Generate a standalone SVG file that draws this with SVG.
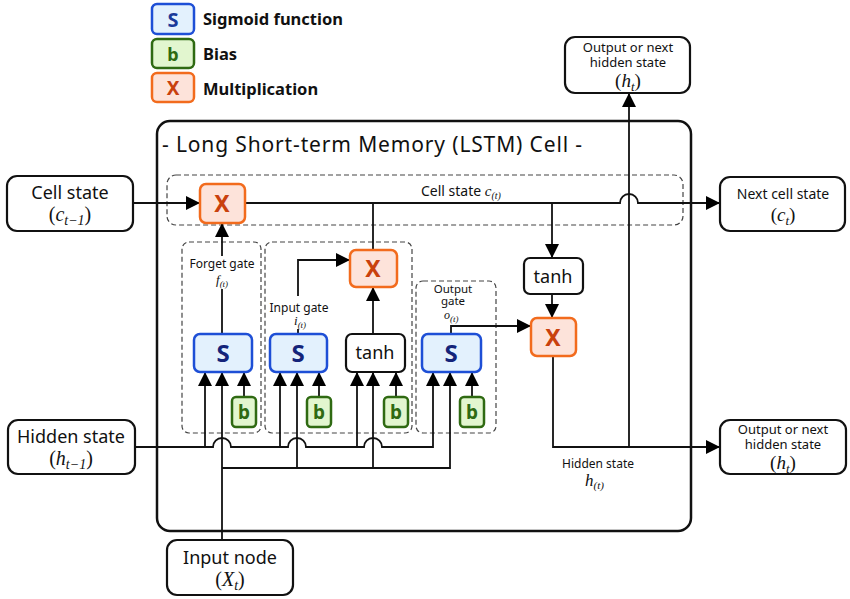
<svg xmlns="http://www.w3.org/2000/svg" width="850" height="599" viewBox="0 0 850 599">
<defs>
<marker id="ah" markerUnits="userSpaceOnUse" markerWidth="15" markerHeight="14" refX="14" refY="7" orient="auto">
<path d="M0,0 L14,7 L0,14 z" fill="#000"/>
</marker>
<style>
text{font-family:"Noto Sans","Open Sans","DejaVu Sans",sans-serif;fill:#111}
.m{font-family:"Liberation Serif","DejaVu Serif",serif;font-style:italic}
.p{font-family:"Liberation Serif","DejaVu Serif",serif}
.box{fill:#fff;stroke:#111;stroke-width:2.2}
.sb{fill:#e3f1fd;stroke:#1e4fd6;stroke-width:2.5}
.st{font-weight:bold;fill:#14247a;font-size:24px}
.bb{fill:#e2f6cf;stroke:#2f6a12;stroke-width:2.5}
.bt{font-weight:bold;fill:#2f6a12;font-size:19px}
.xb{fill:#fde3da;stroke:#f26b1d;stroke-width:2.5}
.xt{font-weight:bold;fill:#c9410e;font-size:23px}
.dash{fill:none;stroke:#444;stroke-width:1.2;stroke-dasharray:5,3}
.ln{fill:none;stroke:#111;stroke-width:1.8}
.arr{marker-end:url(#ah)}
.lg{font-weight:bold;font-size:16.5px}
.sm{font-size:12px}
.ob{font-size:13px}
</style>
</defs>

<g id="legend">
<rect class="sb" x="152" y="4" width="42" height="30" rx="5"/>
<text class="st" x="173" y="27" text-anchor="middle" style="font-size:20px;fill:#1a3a9a">S</text>
<text class="lg" x="203" y="25">Sigmoid function</text>
<rect class="bb" x="152" y="39" width="42" height="29" rx="5"/>
<text class="bt" x="173" y="61" text-anchor="middle" style="font-size:18px">b</text>
<text class="lg" x="203" y="60">Bias</text>
<rect class="xb" x="152" y="73" width="42" height="29" rx="5"/>
<text class="xt" x="173" y="95" text-anchor="middle" style="font-size:19px">X</text>
<text class="lg" x="203" y="95">Multiplication</text>
</g>

<g id="cell">
<rect x="157" y="121" width="534" height="410" rx="13" fill="none" stroke="#111" stroke-width="2.5"/>
<text x="162" y="152" style="font-size:21px" textLength="420" lengthAdjust="spacing">- Long Short-term Memory (LSTM) Cell -</text>
</g>

<g id="regions">
<rect class="dash" x="167" y="175" width="516" height="50" rx="9"/>
<rect class="dash" x="182" y="242" width="79" height="191" rx="7"/>
<rect class="dash" x="265" y="242" width="147" height="191" rx="7"/>
<rect class="dash" x="416" y="281" width="80" height="152" rx="7"/>
</g>

<g id="connectors">
<path class="ln arr" d="M133,203 H200"/>
<path class="ln arr" d="M245,203 H620 A9,9 0 0 1 638,203 H720"/>
<path class="ln arr" d="M552,203 V258"/>
<path class="ln arr" d="M552,294 V318"/>
<path class="ln" d="M222,334 V289"/>
<path class="ln arr" d="M222,256 V223"/>
<path class="ln" d="M298,334 V329"/>
<path class="ln arr" d="M298,296 V260 H350"/>
<path class="ln arr" d="M373,334 V287"/>
<path class="ln" d="M373,250 V203"/>
<path class="ln arr" d="M451,334 V326 H531"/>
<path class="ln arr" d="M553,356 V447 H720"/>
<path class="ln arr" d="M629,447 V93"/>
<path class="ln arr" d="M135,447 H213 A9,9 0 0 1 231,447 H288 A9,9 0 0 1 306,447 H364 A9,9 0 0 1 382,447 H433 V372"/>
<path class="ln arr" d="M205,447 V372"/>
<path class="ln arr" d="M280,447 V372"/>
<path class="ln arr" d="M357,447 V372"/>
<path class="ln arr" d="M222,540 V372"/>
<path class="ln arr" d="M222,468 H450 V372"/>
<path class="ln arr" d="M297,468 V372"/>
<path class="ln arr" d="M373,468 V372"/>
<path class="ln arr" d="M244,397 V372"/>
<path class="ln arr" d="M319,397 V372"/>
<path class="ln arr" d="M396,397 V372"/>
<path class="ln arr" d="M472,397 V372"/>
</g>

<g id="labels">
<text class="sm" x="222" y="268" text-anchor="middle">Forget gate</text>
<text class="m" x="216" y="284" style="font-size:13px">f<tspan style="font-size:9px" dy="3">(t)</tspan></text>
<text class="sm" x="299" y="312" text-anchor="middle">Input gate</text>
<text class="m" x="294" y="325" style="font-size:13px">i<tspan style="font-size:9px" dy="3">(t)</tspan></text>
<text class="sm" x="453" y="293" text-anchor="middle" style="font-size:11.5px">Output</text>
<text class="sm" x="453" y="305" text-anchor="middle" style="font-size:11.5px">gate</text>
<text class="m" x="444" y="319" style="font-size:12px">o<tspan style="font-size:9px" dy="3">(t)</tspan></text>
<text x="421" y="196" style="font-size:14px">Cell state <tspan class="m" style="font-size:15px">c</tspan><tspan class="m" style="font-size:10px" dy="3">(t)</tspan></text>
<text x="598" y="468" text-anchor="middle" style="font-size:12px">Hidden state</text>
<text class="m" x="585" y="486" style="font-size:17px">h<tspan style="font-size:11px" dy="3">(t)</tspan></text>
</g>

<g id="cell-state-in">
<rect class="box" x="7" y="176" width="126" height="55" rx="10"/>
<text x="70" y="199" text-anchor="middle" style="font-size:18px">Cell state</text>
<text class="p" x="70" y="221" text-anchor="middle" style="font-size:20px">(<tspan class="m">c</tspan><tspan class="m" style="font-size:14px" dy="4">t−1</tspan><tspan dy="-4">)</tspan></text>
</g>

<g id="hidden-state-in">
<rect class="box" x="8" y="420" width="127" height="54" rx="10"/>
<text x="71" y="443" text-anchor="middle" style="font-size:18px">Hidden state</text>
<text class="p" x="71" y="465" text-anchor="middle" style="font-size:20px">(<tspan class="m">h</tspan><tspan class="m" style="font-size:14px" dy="4">t−1</tspan><tspan dy="-4">)</tspan></text>
</g>

<g id="input-node">
<rect class="box" x="167" y="540" width="126" height="55" rx="10"/>
<text x="230" y="564" text-anchor="middle" style="font-size:18px">Input node</text>
<text class="p" x="230" y="586" text-anchor="middle" style="font-size:20px">(<tspan class="m">X</tspan><tspan class="m" style="font-size:14px" dy="4">t</tspan><tspan dy="-4">)</tspan></text>
</g>

<g id="next-cell-state">
<rect class="box" x="720" y="177" width="125" height="54" rx="10"/>
<text x="783" y="199" text-anchor="middle" style="font-size:14px">Next cell state</text>
<text class="p" x="783" y="221" text-anchor="middle" style="font-size:19px">(<tspan class="m">c</tspan><tspan class="m" style="font-size:13px" dy="4">t</tspan><tspan dy="-4">)</tspan></text>
</g>

<g id="output-top">
<rect class="box" x="565" y="37" width="125" height="56" rx="10"/>
<text class="ob" x="628" y="52" text-anchor="middle">Output or next</text>
<text class="ob" x="628" y="67" text-anchor="middle">hidden state</text>
<text class="p" x="628" y="87" text-anchor="middle" style="font-size:19px">(<tspan class="m">h</tspan><tspan class="m" style="font-size:13px" dy="4">t</tspan><tspan dy="-4">)</tspan></text>
</g>

<g id="output-right">
<rect class="box" x="720" y="420" width="126" height="54" rx="10"/>
<text class="ob" x="783" y="434" text-anchor="middle">Output or next</text>
<text class="ob" x="783" y="449" text-anchor="middle">hidden state</text>
<text class="p" x="783" y="469" text-anchor="middle" style="font-size:19px">(<tspan class="m">h</tspan><tspan class="m" style="font-size:13px" dy="4">t</tspan><tspan dy="-4">)</tspan></text>
</g>

<g id="forget-x">
<rect class="xb" x="200" y="184" width="45" height="39" rx="6"/>
<text class="xt" x="222" y="212" text-anchor="middle">X</text>
</g>
<g id="input-x">
<rect class="xb" x="350" y="250" width="47" height="37" rx="6"/>
<text class="xt" x="373" y="277" text-anchor="middle">X</text>
</g>
<g id="output-x">
<rect class="xb" x="531" y="318" width="45" height="38" rx="6"/>
<text class="xt" x="553" y="346" text-anchor="middle">X</text>
</g>

<g id="forget-s">
<rect class="sb" x="194" y="334" width="58" height="38" rx="6"/>
<text class="st" x="223" y="362" text-anchor="middle">S</text>
</g>
<g id="input-s">
<rect class="sb" x="270" y="334" width="57" height="38" rx="6"/>
<text class="st" x="298" y="362" text-anchor="middle">S</text>
</g>
<g id="input-tanh">
<rect class="box" x="346" y="334" width="59" height="38" rx="6"/>
<text x="375" y="359" text-anchor="middle" style="font-size:18px">tanh</text>
</g>
<g id="output-s">
<rect class="sb" x="422" y="334" width="59" height="38" rx="6"/>
<text class="st" x="451" y="362" text-anchor="middle">S</text>
</g>
<g id="cell-tanh">
<rect class="box" x="524" y="258" width="59" height="36" rx="6"/>
<text x="553" y="283" text-anchor="middle" style="font-size:18px">tanh</text>
</g>

<g id="bias-f"><rect class="bb" x="232" y="397" width="24" height="30" rx="4"/><text class="bt" x="244" y="419" text-anchor="middle">b</text></g>
<g id="bias-i"><rect class="bb" x="307" y="397" width="24" height="30" rx="4"/><text class="bt" x="319" y="419" text-anchor="middle">b</text></g>
<g id="bias-c"><rect class="bb" x="384" y="397" width="24" height="30" rx="4"/><text class="bt" x="396" y="419" text-anchor="middle">b</text></g>
<g id="bias-o"><rect class="bb" x="460" y="397" width="24" height="30" rx="4"/><text class="bt" x="472" y="419" text-anchor="middle">b</text></g>
</svg>
